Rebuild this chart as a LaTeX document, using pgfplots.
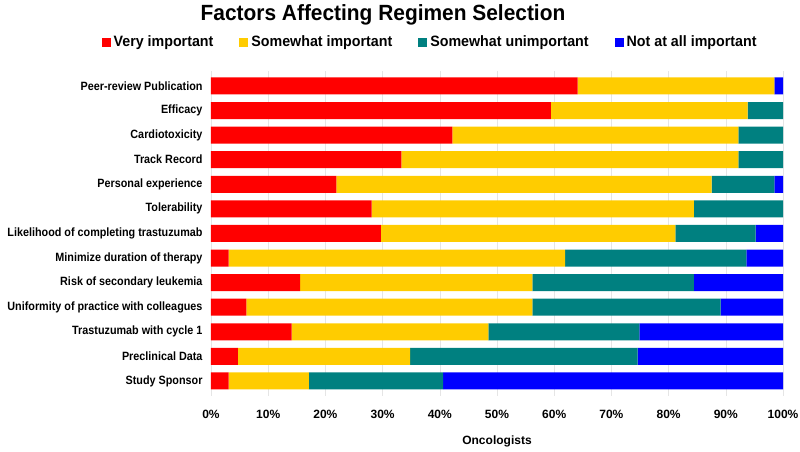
\documentclass[border=0pt]{standalone}
\usepackage{pgfplots}
\pgfplotsset{compat=1.18}
\usepackage{fontspec}
\setmainfont{Liberation Sans}
\newfontfamily\narrowfont{Liberation Sans}[FakeStretch=0.9]
\newfontfamily\titlefont{Liberation Sans}[FakeStretch=0.95]

\definecolor{vimp}{HTML}{FF0000}
\definecolor{simp}{HTML}{FFCC00}
\definecolor{suni}{HTML}{008080}
\definecolor{nimp}{HTML}{0000FF}

% percentages of oncologists, rows top to bottom
\pgfplotstableread{
y  vi    si    su    na
0  64.1  34.4  0.0   1.5
1  59.4  34.4  6.2   0.0
2  42.2  50.0  7.8   0.0
3  33.3  58.9  7.8   0.0
4  21.9  65.6  11.0  1.5
5  28.1  56.3  15.6  0.0
6  29.7  51.5  14.0  4.8
7  3.1   58.8  31.7  6.4
8  15.6  40.6  28.2  15.6
9  6.2   50.0  32.9  10.9
10 14.1  34.4  26.4  25.1
11 4.7   30.1  39.8  25.4
12 3.1   14.0  23.5  59.4
}\factors

\begin{document}
\begin{tikzpicture}
\useasboundingbox (-211pt,-55.3pt) rectangle (589pt,395.7pt);
\begin{axis}[
    at={(0,0)}, anchor=south west,
    scale only axis,
    width=572pt, height=324.5pt,
    xbar stacked,
    bar width=17pt,
    xmin=0, xmax=100,
    ymin=-0.6, ymax=12.6,
    y dir=reverse,
    axis line style={draw=none},
    major tick length=0pt,
    xtick={0,10,...,100},
    xticklabels={0\%,10\%,20\%,30\%,40\%,50\%,60\%,70\%,80\%,90\%,100\%},
    xticklabel style={font=\bfseries\fontsize{12}{14}\selectfont, yshift=-11pt},
    ytick={0,...,12},
    yticklabels={Peer-review Publication, Efficacy, Cardiotoxicity, Track Record,
        Personal experience, Tolerability, Likelihood of completing trastuzumab,
        Minimize duration of therapy, Risk of secondary leukemia,
        Uniformity of practice with colleagues, Trastuzumab with cycle 1,
        Preclinical Data, Study Sponsor},
    yticklabel style={font=\narrowfont\bfseries\fontsize{12}{14}\selectfont, xshift=-5pt},
    xmajorgrids, grid style={draw=black!10, line width=0.5pt},
    xlabel={Oncologists},
    xlabel style={font=\bfseries\fontsize{12}{14}\selectfont, yshift=-10pt},
    legend columns=4,
    legend style={draw=none, at={(0.383,1.09)}, anchor=center,
        font=\titlefont\bfseries\fontsize{15}{17}\selectfont,
        /tikz/every odd column/.append style={column sep=1pt},
        /tikz/every even column/.append style={column sep=24pt}},
    legend image code/.code={\fill[#1] (0pt,-4.5pt) rectangle (9pt,4.5pt);},
]
\addplot[fill=vimp, draw=none] table[x=vi, y=y] {\factors};
\addplot[fill=simp, draw=none] table[x=si, y=y] {\factors};
\addplot[fill=suni, draw=none] table[x=su, y=y] {\factors};
\addplot[fill=nimp, draw=none] table[x=na, y=y] {\factors};
\legend{Very important, Somewhat important, Somewhat unimportant, Not at all important}
\end{axis}
\node[font=\titlefont\bfseries\fontsize{22}{26}\selectfont] at (172pt,380.7pt) {Factors Affecting Regimen Selection};
\end{tikzpicture}
\end{document}
